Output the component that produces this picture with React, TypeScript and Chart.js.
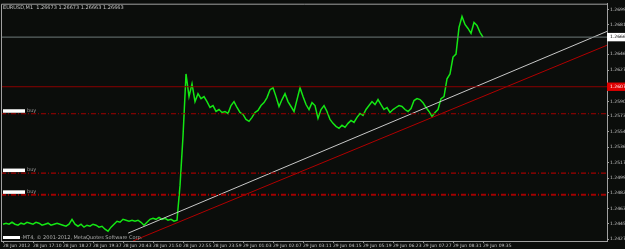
import { useEffect, useRef } from 'react';
import { Chart, registerables } from 'chart.js';

Chart.register(...registerables);

const headerText = 'EURUSD,M1  1.26673 1.26673 1.26663 1.26663';
const watermarkText = '-MT4, © 2001-2012, MetaQuotes Software Corp.';

const timeLabels = [
  '28 Jun 2012', '28 Jun 17:10', '28 Jun 18:27', '28 Jun 19:37', '28 Jun 20:43',
  '28 Jun 21:50', '28 Jun 22:55', '28 Jun 23:59', '29 Jun 01:03', '29 Jun 02:07',
  '29 Jun 03:11', '29 Jun 04:15', '29 Jun 05:19', '29 Jun 06:23', '29 Jun 07:27',
  '29 Jun 08:31', '29 Jun 09:35',
];
const timeTickIndex = [0, 10, 20, 30, 40, 50, 60, 70, 80, 90, 100, 110, 120, 130, 140, 150, 160];

const closes = [
  1.24446, 1.24458, 1.24446, 1.24469, 1.24446, 1.24434, 1.24458, 1.24446, 1.24469, 1.24458,
  1.24446, 1.24469, 1.24458, 1.24434, 1.24446, 1.24458, 1.24434, 1.24446, 1.24458, 1.24446,
  1.24434, 1.24422, 1.24446, 1.24504, 1.24446, 1.24422, 1.24446, 1.24411, 1.24434, 1.24422,
  1.24446, 1.24434, 1.24411, 1.24422, 1.24387, 1.24364, 1.24411, 1.24446, 1.24481, 1.24469,
  1.24504, 1.24493, 1.24481, 1.24493, 1.24481, 1.24493, 1.24469, 1.24434, 1.24469, 1.24504,
  1.24516, 1.24504, 1.24528, 1.24504, 1.24516, 1.24493, 1.24504, 1.24481, 1.24493, 1.24903,
  1.25489, 1.26227, 1.25958, 1.26110, 1.25899, 1.25993, 1.25934, 1.25958, 1.25899, 1.25829,
  1.25852, 1.25782, 1.25805, 1.25770, 1.25782, 1.25758, 1.25852, 1.25899, 1.25829, 1.25770,
  1.25747, 1.25688, 1.25665, 1.25712, 1.25770, 1.25794, 1.25852, 1.25887, 1.25946, 1.26040,
  1.26063, 1.25958, 1.25841, 1.25923, 1.25993, 1.25899, 1.25841, 1.25782, 1.25923, 1.26063,
  1.25958, 1.25864, 1.25805, 1.25887, 1.25852, 1.25700, 1.25805, 1.25852, 1.25782, 1.25688,
  1.25641, 1.25606, 1.25583, 1.25618, 1.25594, 1.25641, 1.25676, 1.25653, 1.25712, 1.25758,
  1.25735, 1.25805, 1.25852, 1.25899, 1.25864, 1.25923, 1.25864, 1.25805, 1.25829, 1.25770,
  1.25805, 1.25829, 1.25852, 1.25841, 1.25805, 1.25782, 1.25817, 1.25911, 1.25934, 1.25923,
  1.25887, 1.25829, 1.25782, 1.25723, 1.25770, 1.25805, 1.25934, 1.25958, 1.26169, 1.26227,
  1.26427, 1.26462, 1.26778, 1.26907, 1.26813, 1.26766, 1.26708, 1.26837, 1.26802, 1.26720,
  1.26663,
];

const yTickValues = [
  1.24270, 1.24450, 1.24630, 1.24820, 1.24990, 1.25175, 1.25360, 1.25540,
  1.25730, 1.25900, 1.26270, 1.26460, 1.26810, 1.26990,
];
const bidPrice = 1.26663;
const resistanceLevel = 1.26075;
const buyLevels = [1.25755, 1.25052, 1.24794];
const buyLineWidths = [1, 1.2, 2];
const whiteTrend = [[41.7, 1.2434], [201.33, 1.26731]];
const redTrend = [[43.3, 1.24247], [201.33, 1.26567]];

const X_MIN = -0.67;
const X_MAX = 201.33;
const Y_MIN = 1.24247;
const Y_MAX = 1.27059;

const BG = '#0b0d0b';
const FRAME = '#a0a0a0';
const TEXT = '#c4c4c4';
const FONT = 'DejaVu Sans';

export default function App() {
  const ref = useRef<HTMLCanvasElement | null>(null);

  useEffect(() => {
    document.body.style.margin = '0';
    document.body.style.background = BG;
    const canvas = ref.current;
    if (!canvas) return;

    const decor = {
      id: 'mt4decor',
      beforeDraw(chart: any) {
        const c = chart.ctx;
        c.save();
        c.fillStyle = BG;
        c.fillRect(0, 0, chart.width, chart.height);
        c.restore();
      },
      afterDatasetsDraw(chart: any) {
        const c = chart.ctx;
        const a = chart.chartArea;
        const ys = chart.scales.y;
        c.save();
        // frame top + left
        c.strokeStyle = FRAME;
        c.lineWidth = 1;
        c.beginPath();
        c.moveTo(a.left + 0.5, a.bottom);
        c.lineTo(a.left + 0.5, a.top + 0.5);
        c.lineTo(a.right, a.top + 0.5);
        c.stroke();
        // buy labels
        c.font = `5px ${FONT}`;
        c.textBaseline = 'bottom';
        buyLevels.forEach((lv) => {
          const py = ys.getPixelForValue(lv);
          c.fillStyle = '#ffffff';
          c.fillRect(a.left + 2, py - 4.5, 22, 3.5);
          c.fillStyle = '#9a9a9a';
          c.fillText('buy', a.left + 26, py - 0.5);
        });
        // header
        c.fillStyle = TEXT;
        c.textBaseline = 'middle';
        c.font = `5px ${FONT}`;
        c.fillText(headerText, a.left + 2, a.top + 4.5);
        // watermark
        c.fillStyle = '#ffffff';
        c.fillRect(a.left + 2, a.bottom - 5, 17, 3);
        c.fillStyle = '#b0b0b0';
        c.fillText(watermarkText, a.left + 20, a.bottom - 3.5);
        c.restore();
      },
    };

    const hline = (lv: number) => [{ x: X_MIN, y: lv }, { x: X_MAX, y: lv }];

    const chart = new Chart(canvas, {
      type: 'line',
      data: {
        datasets: [
          ...buyLevels.map((lv, i) => ({
            data: hline(lv),
            borderColor: '#a00000',
            borderWidth: buyLineWidths[i],
            borderDash: [5, 2, 1, 2],
            pointRadius: 0,
          })),
          {
            data: hline(resistanceLevel),
            borderColor: '#8a0000',
            borderWidth: 1,
            pointRadius: 0,
          },
          {
            data: hline(bidPrice),
            borderColor: '#6e7a7a',
            borderWidth: 1,
            pointRadius: 0,
          },
          {
            data: whiteTrend.map(([x, y]) => ({ x, y })),
            borderColor: '#c8c8c8',
            borderWidth: 1,
            pointRadius: 0,
          },
          {
            data: redTrend.map(([x, y]) => ({ x, y })),
            borderColor: '#b00000',
            borderWidth: 1,
            pointRadius: 0,
          },
          {
            data: closes.map((v, i) => ({ x: i, y: v })),
            borderColor: '#14e614',
            borderWidth: 1.5,
            pointRadius: 0,
            tension: 0,
          },
        ],
      },
      options: {
        responsive: false,
        animation: false,
        events: [],
        layout: { padding: { top: 1, left: 1, right: 0, bottom: 0 } },
        plugins: { legend: { display: false }, tooltip: { enabled: false } },
        scales: {
          x: {
            type: 'linear',
            min: X_MIN,
            max: X_MAX,
            afterBuildTicks: (s: any) => {
              s.ticks = timeTickIndex.map((v) => ({ value: v }));
            },
            afterFit: (s: any) => {
              s.height = 8;
            },
            ticks: {
              autoSkip: false,
              maxRotation: 0,
              minRotation: 0,
              align: 'start',
              padding: 0,
              color: TEXT,
              font: { size: 4.5, family: FONT },
              callback: (_v: any, i: number) => timeLabels[i],
            },
            grid: { display: true, drawOnChartArea: false, drawTicks: true, tickLength: 2, color: FRAME },
            border: { display: true, color: FRAME, width: 1 },
          },
          y: {
            type: 'linear',
            position: 'right',
            min: Y_MIN,
            max: Y_MAX,
            afterBuildTicks: (s: any) => {
              s.ticks = [...yTickValues, resistanceLevel, bidPrice].map((v) => ({ value: v }));
            },
            afterFit: (s: any) => {
              s.width = 18;
            },
            ticks: {
              autoSkip: false,
              padding: 1,
              color: (ctx: any) =>
                ctx.tick && ctx.tick.value === bidPrice ? '#000000' : ctx.tick && ctx.tick.value === resistanceLevel ? '#ffffff' : TEXT,
              showLabelBackdrop: (ctx: any) =>
                !!ctx.tick && (ctx.tick.value === bidPrice || ctx.tick.value === resistanceLevel),
              backdropColor: (ctx: any) => (ctx.tick && ctx.tick.value === bidPrice ? '#ffffff' : '#e00000'),
              backdropPadding: { left: 3, right: 3, top: 1.5, bottom: 1.5 },
              font: { size: 4.5, family: FONT },
              callback: (v: any) => Number(v).toFixed(5),
            },
            grid: { display: true, drawOnChartArea: false, drawTicks: true, tickLength: 2, color: FRAME },
            border: { display: true, color: FRAME, width: 1 },
          },
        },
      },
      plugins: [decor],
    } as any);

    return () => chart.destroy();
  }, []);

  return (
    <div style={{ width: 625, height: 249, background: BG }}>
      <canvas ref={ref} width={625} height={249} style={{ display: 'block' }} />
    </div>
  );
}
